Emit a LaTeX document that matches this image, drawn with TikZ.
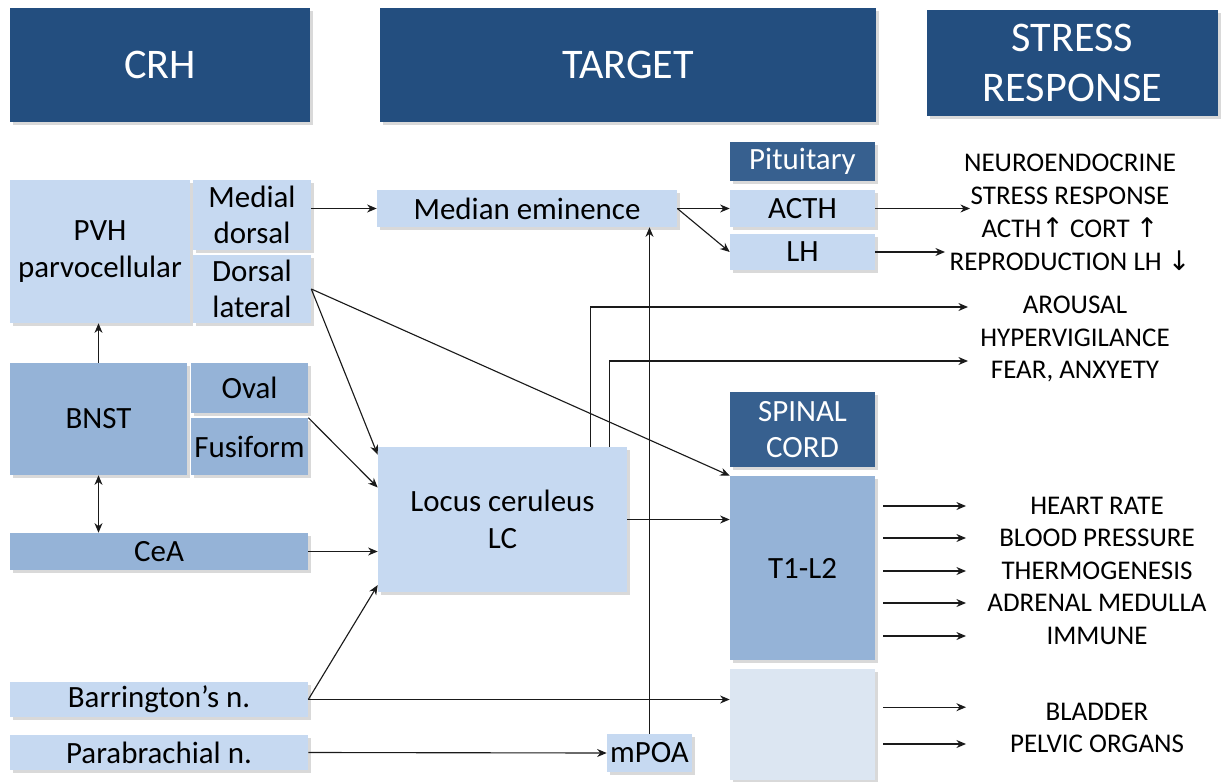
\documentclass[tikz,border=0pt]{standalone}
\usepackage{fontspec}
\setmainfont{Carlito}
\newfontfamily\flechefont{DejaVu Sans}
\usepackage{tikz}
\usetikzlibrary{arrows.meta,positioning,calc,shadows}
\definecolor{titreC}{HTML}{234E7F}
\definecolor{sousC}{HTML}{37608F}
\definecolor{clairC}{HTML}{C6D9F1}
\definecolor{moyenC}{HTML}{95B3D7}
\definecolor{paleC}{HTML}{DCE6F2}
\definecolor{flecheC}{HTML}{1A1A1A}
\tikzset{
  titre/.style={rectangle, fill=#1, text=white, align=center, inner sep=0pt,
                font=\fontsize{30}{35}\selectfont,
                drop shadow={shadow xshift=2pt, shadow yshift=-2pt, opacity=0.3}},
  noyau/.style={rectangle, fill=#1, align=center, inner sep=0pt,
                font=\fontsize{22}{26}\selectfont,
                drop shadow={shadow xshift=2pt, shadow yshift=-2pt, opacity=0.3}},
  effet/.style={align=center, inner sep=0pt, font=\fontsize{19.2}{23.4}\selectfont},
  arr/.style={-{Stealth[length=2.4mm,width=2mm]}, line width=0.8pt, draw=flecheC},
  arrdouble/.style={{Stealth[length=2.4mm,width=2mm]}-{Stealth[length=2.4mm,width=2mm]}, line width=0.8pt, draw=flecheC},
}

\begin{document}
\begin{tikzpicture}[x=0.025cm, y=-0.025cm]
    \useasboundingbox (0,0) rectangle (1224,782);
    % en-tetes
    \node[titre=titreC, minimum width=7.5cm, minimum height=2.85cm] (crh) at (160,65) {CRH};
    \node[titre=titreC, minimum width=12.4cm, minimum height=2.85cm] (target) at (628,65) {TARGET};
    \node[titre=titreC, minimum width=7.275cm, minimum height=2.65cm, font=\fontsize{30}{35.4}\selectfont] (stress) at (1072.5,63) {STRESS\\RESPONSE};
    \node[titre=sousC, minimum width=3.625cm, minimum height=0.975cm, font=\fontsize{22}{25}\selectfont] (pit) at (802.5,161.5) {Pituitary};
    \node[titre=sousC, minimum width=3.625cm, minimum height=1.875cm, font=\fontsize{22}{26.2}\selectfont] (spinal) at (802.5,429.5) {SPINAL\\CORD};
    % noyaux CRH
    \node[noyau=clairC, minimum width=4.5cm, minimum height=3.575cm] (pvh) at (100,251.5) {PVH\\parvocellular};
    \node[noyau=clairC, minimum width=2.95cm, minimum height=1.75cm] (md) at (252,215) {Medial\\dorsal};
    \node[noyau=clairC, minimum width=2.95cm, minimum height=1.7cm] (dl) at (252,289) {Dorsal\\lateral};
    \node[noyau=moyenC, minimum width=4.425cm, minimum height=2.8cm] (bnst) at (98.5,419) {BNST};
    \node[noyau=moyenC, minimum width=2.925cm, minimum height=1.25cm] (oval) at (249.5,388) {Oval};
    \node[noyau=moyenC, minimum width=2.925cm, minimum height=1.425cm] (fus) at (249.5,446.5) {Fusiform};
    \node[noyau=moyenC, minimum width=7.45cm, minimum height=0.925cm] (cea) at (159,551.5) {CeA};
    \node[noyau=clairC, minimum width=7.45cm, minimum height=0.875cm] (barr) at (159,699.5) {Barrington’s n.};
    \node[noyau=clairC, minimum width=7.45cm, minimum height=0.875cm] (pb) at (159,752.5) {Parabrachial n.};
    % cibles
    \node[noyau=clairC, minimum width=7.5cm, minimum height=0.925cm] (me) at (527,208.5) {Median eminence};
    \node[noyau=clairC, minimum width=3.625cm, minimum height=0.925cm] (acth) at (802.5,208.5) {ACTH};
    \node[noyau=clairC, minimum width=3.625cm, minimum height=0.9cm] (lh) at (802.5,252) {LH};
    \node[noyau=clairC, minimum width=6.225cm, minimum height=3.625cm] (lc) at (502.5,519.5) {Locus ceruleus\\LC};
    \node[noyau=moyenC, minimum width=3.625cm, minimum height=4.6cm] (t1) at (802.5,568) {T1-L2};
    \node[noyau=paleC, minimum width=3.625cm, minimum height=2.775cm] (sacre) at (802.5,724.5) {};
    \node[noyau=clairC, minimum width=2.125cm, minimum height=0.95cm] (mpoa) at (649.5,753) {mPOA};
    % reponses
    \node[effet] (neuro) at (1070,212.5) {NEUROENDOCRINE\\STRESS RESPONSE\\ACTH{\flechefont ↑} CORT {\flechefont ↑}\\REPRODUCTION LH {\flechefont ↓}};
    \node[effet] (arousal) at (1075,339) {AROUSAL\\HYPERVIGILANCE\\FEAR, ANXYETY};
    \node[effet] (hr) at (1097,506) {HEART RATE};
    \node[effet] (bp) at (1097,538) {BLOOD PRESSURE};
    \node[effet] (thermo) at (1097,571) {THERMOGENESIS};
    \node[effet] (adrenal) at (1097,603) {ADRENAL MEDULLA};
    \node[effet] (immune) at (1097,636) {IMMUNE};
    \node[effet] (bladder) at (1097,712) {BLADDER};
    \node[effet] (pelvic) at (1097,744) {PELVIC ORGANS};
    \coordinate (fin1) at (970,208);
    \coordinate (fin2) at (945,252);
    \coordinate (fin3) at (968,307);
    \coordinate (fin4) at (968,361);
    \coordinate (colD) at (966,0);
    % connexions
    \draw[arr] (md.east |- me) -- (me.west);
    \draw[arr] (me.east) -- (acth.west);
    \draw[arr] (me.east) -- (lh.west);
    \draw[arr] (acth.east) -- (acth.east -| fin1);
    \draw[arr] (lh.east) -- (lh.east -| fin2);
    \draw[arr] ([xshift=-0.925cm]lc.north east) |- (fin3);
    \draw[arr] ([xshift=-0.45cm]lc.north east) |- (fin4);
    \draw[arr] (mpoa.north) -- (mpoa.north |- me.south);
    \draw[arr] (dl.east) -- ([yshift=-0.2cm]lc.north west);
    \draw[arr] (dl.east) -- (t1.north west);
    \draw[arr] (fus.north east) -- ([yshift=0.8cm]lc.west);
    \draw[arr] (cea.east) -- (cea.east -| lc.west);
    \draw[arr] (barr.east) -- ([yshift=0.18cm]lc.south west);
    \draw[arr] (barr.east) -- (barr.east -| sacre.west);
    \draw[arr] (pb.east) -- (mpoa.west);
    \draw[arr] (bnst.north) -- (bnst.north |- pvh.south);
    \draw[arrdouble] (bnst.south) -- (bnst.south |- cea.north);
    \draw[arr] (lc.east) -- (lc.east -| t1.west);
    \draw[arr] ([xshift=0.2cm]t1.east |- hr) -- (colD |- hr);
    \draw[arr] ([xshift=0.2cm]t1.east |- bp) -- (colD |- bp);
    \draw[arr] ([xshift=0.2cm]t1.east |- thermo) -- (colD |- thermo);
    \draw[arr] ([xshift=0.2cm]t1.east |- adrenal) -- (colD |- adrenal);
    \draw[arr] ([xshift=0.2cm]t1.east |- immune) -- (colD |- immune);
    \draw[arr] ([xshift=0.2cm,yshift=0.12cm]sacre.east |- bladder) -- ([yshift=0.12cm]colD |- bladder);
    \draw[arr] ([xshift=0.2cm]sacre.east |- pelvic) -- (colD |- pelvic);
  \end{tikzpicture}
\end{document}
